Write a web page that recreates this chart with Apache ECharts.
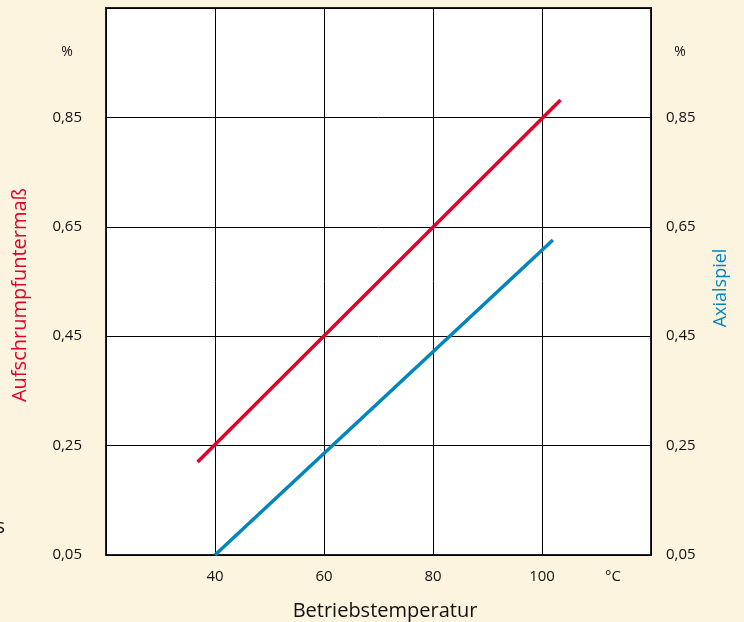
<!DOCTYPE html>
<html>
<head>
<meta charset="utf-8">
<script src="https://cdn.jsdelivr.net/npm/echarts@6/dist/echarts.min.js"></script>
<style>
html,body{margin:0;padding:0;background:#fdf4e0;}
#chart{width:744px;height:622px;}
</style>
</head>
<body>
<div id="chart"></div>
<script>
// Data
var xTicks = [20, 40, 60, 80, 100, 120];
var yTicks = [0.05, 0.25, 0.45, 0.65, 0.85, 1.05];
var redTemps = [36.8, 103.4];        // Aufschrumpfuntermaß
var redValues = [0.22, 0.882];
var blueTemps = [40, 102];           // Axialspiel
var blueValues = [0.05, 0.626];

var FONT = '"Open Sans", "Noto Sans", sans-serif';
var chart = echarts.init(document.getElementById('chart'));

function pairs(xs, ys) { return xs.map(function (x, i) { return [x, ys[i]]; }); }
function yFmt(v) { return v > 1 ? '' : v.toFixed(2).replace('.', ','); }

var yAxisCommon = {
  type: 'value',
  min: yTicks[0], max: yTicks[yTicks.length - 1], interval: 0.2,
  axisLine: { show: false }, axisTick: { show: false },
  splitLine: { show: true, lineStyle: { color: '#000', width: 1 } },
  axisLabel: { formatter: yFmt, color: '#111', fontFamily: FONT, fontSize: 15 }
};

chart.setOption({
  backgroundColor: '#fdf4e0',
  animation: false,
  grid: { left: 106, right: 93, top: 8, bottom: 67, show: true,
          backgroundColor: '#ffffff', borderColor: '#222', borderWidth: 2 },
  xAxis: {
    type: 'value', min: xTicks[0], max: xTicks[xTicks.length - 1], interval: 20,
    axisLine: { show: false }, axisTick: { show: false },
    splitLine: { show: true, lineStyle: { color: '#000', width: 1 } },
    axisLabel: {
      margin: 14, color: '#111', fontFamily: FONT, fontSize: 15,
      formatter: function (v) { return (v === xTicks[0] || v === xTicks[xTicks.length - 1]) ? '' : String(v); }
    }
  },
  yAxis: [
    Object.assign({}, yAxisCommon, { position: 'left', axisLabel: Object.assign({}, yAxisCommon.axisLabel, { margin: 24 }) }),
    Object.assign({}, yAxisCommon, { position: 'right', splitLine: { show: false },
      axisLabel: Object.assign({}, yAxisCommon.axisLabel, { margin: 15 }) })
  ],
  series: [
    { type: 'line', name: 'Aufschrumpfuntermaß', yAxisIndex: 0, data: pairs(redTemps, redValues),
      showSymbol: false, symbol: 'none', lineStyle: { color: '#e1002b', width: 3.5 } },
    { type: 'line', name: 'Axialspiel', yAxisIndex: 1, data: pairs(blueTemps, blueValues),
      showSymbol: false, symbol: 'none', lineStyle: { color: '#0085bd', width: 3.5 } }
  ],
  graphic: [
    { type: 'text', x: 67, y: 52, style: { text: '%', fill: '#111', font: '14px ' + FONT, textAlign: 'center', textVerticalAlign: 'middle' } },
    { type: 'text', x: 680, y: 52, style: { text: '%', fill: '#111', font: '14px ' + FONT, textAlign: 'center', textVerticalAlign: 'middle' } },
    { type: 'text', x: 613, y: 577, style: { text: '°C', fill: '#111', font: '15px ' + FONT, textAlign: 'center', textVerticalAlign: 'middle' } },
    { type: 'text', x: 385, y: 611, style: { text: 'Betriebstemperatur', fill: '#111', font: '20px ' + FONT, textAlign: 'center', textVerticalAlign: 'middle' } },
    { type: 'text', x: 20, y: 295, rotation: Math.PI / 2, style: { text: 'Aufschrumpfuntermaß', fill: '#e1002b', font: '20px ' + FONT, textAlign: 'center', textVerticalAlign: 'middle' } },
    { type: 'text', x: 721, y: 288, rotation: Math.PI / 2, style: { text: 'Axialspiel', fill: '#0085bd', font: '18px ' + FONT, textAlign: 'center', textVerticalAlign: 'middle' } },
    { type: 'text', x: 5, y: 527, style: { text: 's', fill: '#111', font: '20px ' + FONT, textAlign: 'right', textVerticalAlign: 'middle' } }
  ]
});
</script>
</body>
</html>
